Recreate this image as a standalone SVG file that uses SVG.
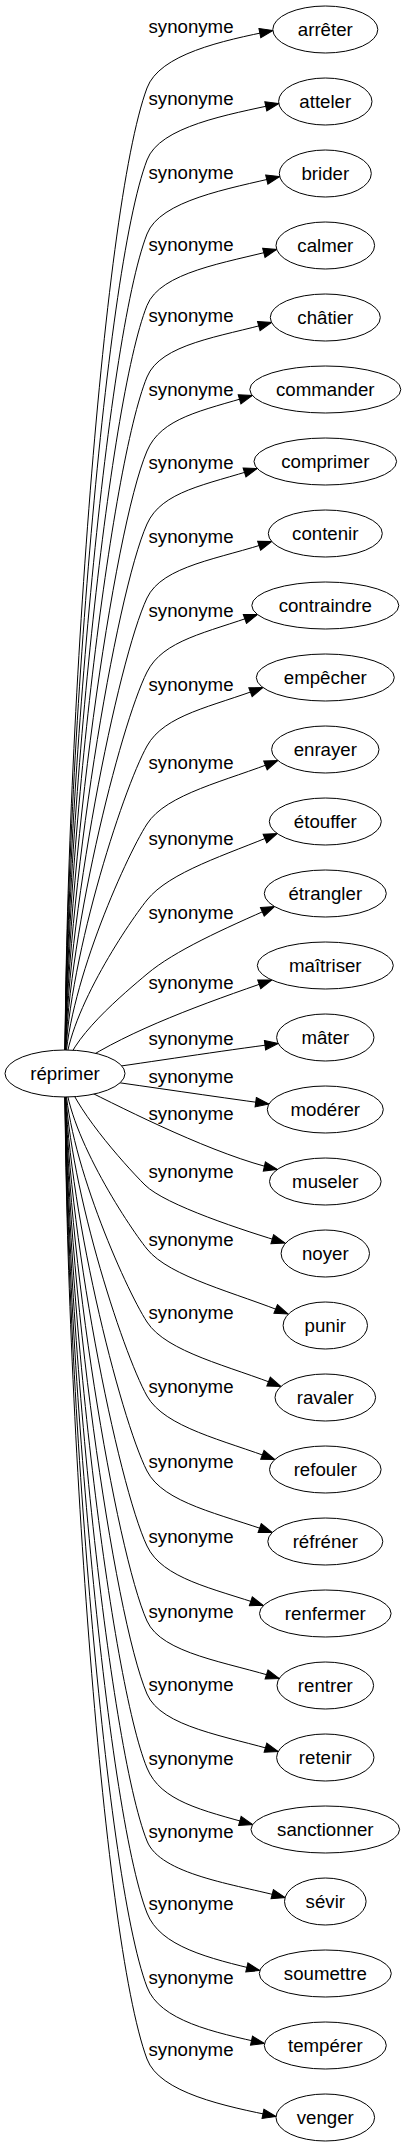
<svg xmlns="http://www.w3.org/2000/svg" width="406" height="2147" viewBox="0 0 406 2147">
<style>
.e{fill:none;stroke:#000;stroke-width:1;marker-end:url(#ah)}
.n ellipse{fill:#fff;stroke:#000;stroke-width:1}
text{font-family:"Liberation Sans",Arial,sans-serif;font-size:18.67px;fill:#000;text-anchor:middle}
</style>
<defs>
<marker id="ah" viewBox="-1 -1 16 11.4" refX="13.3" refY="4.7" markerWidth="16" markerHeight="11.4" markerUnits="userSpaceOnUse" orient="auto">
<path d="M0,0 L13.3,4.7 L0,9.4 z" fill="#000" stroke="#000" stroke-width="1"/>
</marker>
</defs>
<rect width="406" height="2147" fill="#fff"/>
<g id="edges">
<g id="e0"><path class="e" d="M65,1073.5 C65,758.1 101.3,211.3 147,88 C159.5,54.3 221.9,40.7 272.9,30.5"/><text x="191" y="33">synonyme</text></g>
<g id="e1"><path class="e" d="M65,1073.5 C65,781.2 103.6,274.6 147,160 C159.7,126.3 227.8,114.7 278.8,103.5"/><text x="191" y="105">synonyme</text></g>
<g id="e2"><path class="e" d="M65,1073.5 C65,804.9 106.1,339.7 147,234 C160,200.4 228.7,188.7 279.7,176.5"/><text x="191" y="179">synonyme</text></g>
<g id="e3"><path class="e" d="M65,1073.5 C65,827.7 108.4,402.7 147,305.5 C160.3,272 225.7,262.8 276.7,249.5"/><text x="191" y="250.5">synonyme</text></g>
<g id="e4"><path class="e" d="M65,1073.5 C65,850.6 110.7,465.6 147,377 C160.6,343.7 220.6,336.8 271.6,322.5"/><text x="191" y="322">synonyme</text></g>
<g id="e5"><path class="e" d="M65,1073.5 C65,874.3 113.2,530.7 147,451 C161.1,417.9 201.3,410.8 252.3,395.5"/><text x="191" y="396">synonyme</text></g>
<g id="e6"><path class="e" d="M65,1073.5 C65,897.7 115.5,594.9 147,524 C161.6,491.1 206.2,484.8 257.2,468.5"/><text x="191" y="469">synonyme</text></g>
<g id="e7"><path class="e" d="M65,1073.5 C65,921.3 117.9,660.1 147,598 C162.3,565.4 220.7,558.8 271.7,541.5"/><text x="191" y="543">synonyme</text></g>
<g id="e8"><path class="e" d="M65,1073.5 C65,945 120.2,725.2 147,672 C163.2,639.9 206.4,632.9 257.4,614.5"/><text x="191" y="617">synonyme</text></g>
<g id="e9"><path class="e" d="M65,1073.5 C65,968.7 122.4,790.3 147,746 C164.5,714.5 211.9,706.9 262.9,687.5"/><text x="191" y="691">synonyme</text></g>
<g id="e10"><path class="e" d="M65,1073.5 C65,993.7 124.6,858.9 147,824 C166.4,793.7 226.8,780.9 277.8,760.5"/><text x="191" y="769">synonyme</text></g>
<g id="e11"><path class="e" d="M65,1073.5 C65,1018 126.4,925.8 147,900 C169.5,871.9 226.2,854.9 277.2,833.5"/><text x="191" y="845">synonyme</text></g>
<g id="e12"><path class="e" d="M65,1073.5 C65,1041.7 127,990.9 147,974 C174.5,950.8 223.5,928.9 274.5,906.5"/><text x="191" y="919">synonyme</text></g>
<g id="e13"><path class="e" d="M80,1063 C130,1030 205,1003 271.8,980"/><text x="191" y="988.5">synonyme</text></g>
<g id="e14"><path class="e" d="M100,1069 C150,1062 220,1051 278.2,1043.5"/><text x="191" y="1045">synonyme</text></g>
<g id="e15"><path class="e" d="M100,1080 C150,1087 210,1096 268.9,1104"/><text x="191" y="1083">synonyme</text></g>
<g id="e16"><path class="e" d="M80,1087 C130,1112 215,1155 277.3,1169.5"/><text x="191" y="1120">synonyme</text></g>
<g id="e17"><path class="e" d="M65,1073.5 C72,1105 122,1162 145,1185 C165,1205 245,1231 285,1243"/><text x="191" y="1178">synonyme</text></g>
<g id="e18"><path class="e" d="M65,1073.5 C65,1128.7 126.4,1223.3 147,1249 C169.5,1277.1 237,1293 288,1314"/><text x="191" y="1246">synonyme</text></g>
<g id="e19"><path class="e" d="M65,1073.5 C65,1152.1 124.7,1287.5 147,1322 C166.5,1352.2 229.9,1366.1 280.9,1386.5"/><text x="191" y="1319">synonyme</text></g>
<g id="e20"><path class="e" d="M65,1073.5 C65,1175.7 122.7,1352.7 147,1396 C164.6,1427.4 223.8,1440.1 274.8,1459.5"/><text x="191" y="1393">synonyme</text></g>
<g id="e21"><path class="e" d="M65,1073.5 C65,1199.7 120.4,1418.7 147,1471 C163.3,1503.1 221.2,1514.1 272.2,1532.5"/><text x="191" y="1468">synonyme</text></g>
<g id="e22"><path class="e" d="M65,1073.5 C65,1223.7 118.1,1484.7 147,1546 C162.4,1578.6 212.4,1588.2 263.4,1605.5"/><text x="191" y="1543">synonyme</text></g>
<g id="e23"><path class="e" d="M65,1073.5 C65,1247.7 115.7,1550.7 147,1621 C161.7,1653.9 228.2,1662.2 279.2,1678.5"/><text x="191" y="1618">synonyme</text></g>
<g id="e24"><path class="e" d="M65,1073.5 C65,1271.1 113.3,1614.9 147,1694 C161.1,1727.1 227.2,1736.2 278.2,1751.5"/><text x="191" y="1691.3">synonyme</text></g>
<g id="e25"><path class="e" d="M65,1073.5 C65,1294.8 110.9,1680 147,1768 C160.7,1801.3 201.7,1810.2 252.7,1824.5"/><text x="191" y="1764.7">synonyme</text></g>
<g id="e26"><path class="e" d="M65,1073.5 C65,1318.1 108.5,1744.3 147,1841 C160.3,1874.5 234.1,1884.2 285.1,1897.5"/><text x="191" y="1838">synonyme</text></g>
<g id="e27"><path class="e" d="M65,1073.5 C65,1341.2 106.1,1807.6 147,1913 C160,1946.6 208.8,1958.3 259.8,1970.5"/><text x="191" y="1910.3">synonyme</text></g>
<g id="e28"><path class="e" d="M65,1073.5 C65,1364.9 103.7,1872.7 147,1987 C159.8,2020.7 213.5,2032.3 264.5,2043.5"/><text x="191" y="1984">synonyme</text></g>
<g id="e29"><path class="e" d="M65,1073.5 C65,1387.9 101.3,1936.1 147,2059 C159.5,2092.7 225,2106.3 276,2116.5"/><text x="191" y="2056">synonyme</text></g>
</g>
<g id="n-reprimer" class="n"><ellipse cx="65" cy="1073.5" rx="60" ry="23.5"/><text x="65" y="1079.5">réprimer</text></g>
<g id="n-arreter" class="n"><ellipse cx="325.3" cy="29.5" rx="52.5" ry="23.5"/><text x="325.3" y="35.5">arrêter</text></g>
<g id="n-atteler" class="n"><ellipse cx="325.3" cy="101.5" rx="46.7" ry="23.5"/><text x="325.3" y="107.5">atteler</text></g>
<g id="n-brider" class="n"><ellipse cx="325.3" cy="173.5" rx="46" ry="23.5"/><text x="325.3" y="179.5">brider</text></g>
<g id="n-calmer" class="n"><ellipse cx="325.3" cy="245.5" rx="49.3" ry="23.5"/><text x="325.3" y="251.5">calmer</text></g>
<g id="n-chatier" class="n"><ellipse cx="325.3" cy="317.5" rx="55" ry="23.5"/><text x="325.3" y="323.5">châtier</text></g>
<g id="n-commander" class="n"><ellipse cx="325.3" cy="389.5" rx="75.5" ry="23.5"/><text x="325.3" y="395.5">commander</text></g>
<g id="n-comprimer" class="n"><ellipse cx="325.3" cy="461.5" rx="71.3" ry="23.5"/><text x="325.3" y="467.5">comprimer</text></g>
<g id="n-contenir" class="n"><ellipse cx="325.3" cy="533.5" rx="57" ry="23.5"/><text x="325.3" y="539.5">contenir</text></g>
<g id="n-contraindre" class="n"><ellipse cx="325.3" cy="605.5" rx="73.5" ry="23.5"/><text x="325.3" y="611.5">contraindre</text></g>
<g id="n-empecher" class="n"><ellipse cx="325.3" cy="677.5" rx="69" ry="23.5"/><text x="325.3" y="683.5">empêcher</text></g>
<g id="n-enrayer" class="n"><ellipse cx="325.3" cy="749.5" rx="53.7" ry="23.5"/><text x="325.3" y="755.5">enrayer</text></g>
<g id="n-etouffer" class="n"><ellipse cx="325.3" cy="821.5" rx="56" ry="23.5"/><text x="325.3" y="827.5">étouffer</text></g>
<g id="n-etrangler" class="n"><ellipse cx="325.3" cy="893.5" rx="61" ry="23.5"/><text x="325.3" y="899.5">étrangler</text></g>
<g id="n-maitriser" class="n"><ellipse cx="325.3" cy="965.5" rx="68" ry="23.5"/><text x="325.3" y="971.5">maîtriser</text></g>
<g id="n-mater" class="n"><ellipse cx="325.3" cy="1037.5" rx="48.7" ry="23.5"/><text x="325.3" y="1043.5">mâter</text></g>
<g id="n-moderer" class="n"><ellipse cx="325.3" cy="1109.5" rx="58" ry="23.5"/><text x="325.3" y="1115.5">modérer</text></g>
<g id="n-museler" class="n"><ellipse cx="325.3" cy="1181.5" rx="55.8" ry="23.5"/><text x="325.3" y="1187.5">museler</text></g>
<g id="n-noyer" class="n"><ellipse cx="325.3" cy="1253.5" rx="44.2" ry="23.5"/><text x="325.3" y="1259.5">noyer</text></g>
<g id="n-punir" class="n"><ellipse cx="325.3" cy="1325.5" rx="42.2" ry="23.5"/><text x="325.3" y="1331.5">punir</text></g>
<g id="n-ravaler" class="n"><ellipse cx="325.3" cy="1397.5" rx="50.3" ry="23.5"/><text x="325.3" y="1403.5">ravaler</text></g>
<g id="n-refouler" class="n"><ellipse cx="325.3" cy="1469.5" rx="55.8" ry="23.5"/><text x="325.3" y="1475.5">refouler</text></g>
<g id="n-refrener" class="n"><ellipse cx="325.3" cy="1541.5" rx="57.5" ry="23.5"/><text x="325.3" y="1547.5">réfréner</text></g>
<g id="n-renfermer" class="n"><ellipse cx="325.3" cy="1613.5" rx="65.8" ry="23.5"/><text x="325.3" y="1619.5">renfermer</text></g>
<g id="n-rentrer" class="n"><ellipse cx="325.3" cy="1685.5" rx="48.3" ry="23.5"/><text x="325.3" y="1691.5">rentrer</text></g>
<g id="n-retenir" class="n"><ellipse cx="325.3" cy="1757.5" rx="48.7" ry="23.5"/><text x="325.3" y="1763.5">retenir</text></g>
<g id="n-sanctionner" class="n"><ellipse cx="325.3" cy="1829.5" rx="74.3" ry="23.5"/><text x="325.3" y="1835.5">sanctionner</text></g>
<g id="n-sevir" class="n"><ellipse cx="325.3" cy="1901.5" rx="40.8" ry="23.5"/><text x="325.3" y="1907.5">sévir</text></g>
<g id="n-soumettre" class="n"><ellipse cx="325.3" cy="1973.5" rx="66" ry="23.5"/><text x="325.3" y="1979.5">soumettre</text></g>
<g id="n-temperer" class="n"><ellipse cx="325.3" cy="2045.5" rx="61" ry="23.5"/><text x="325.3" y="2051.5">tempérer</text></g>
<g id="n-venger" class="n"><ellipse cx="325.3" cy="2117.5" rx="49.3" ry="23.5"/><text x="325.3" y="2123.5">venger</text></g>
</svg>
